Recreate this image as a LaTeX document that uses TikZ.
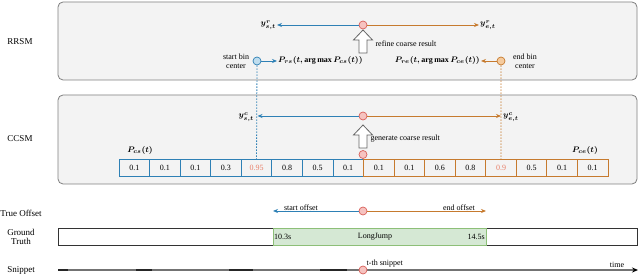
\documentclass[tikz,border=0pt]{standalone}
\usepackage{fontspec}
\setmainfont{Liberation Serif}
\usepackage{amsmath,bm}
\usetikzlibrary{arrows.meta,calc}
\definecolor{cblue}{HTML}{2E80B5}
\definecolor{corange}{HTML}{C67A2E}
\definecolor{cred}{HTML}{D9605A}
\definecolor{cpink}{HTML}{F6C3C0}
\definecolor{csalmon}{HTML}{E8806A}
\definecolor{cpanel}{HTML}{F3F3F3}
\definecolor{cpanelb}{HTML}{7F7F7F}
\definecolor{cgreen}{HTML}{D5E8D4}
\definecolor{cgreenb}{HTML}{8DBF78}
\definecolor{clblue}{HTML}{BFDDEE}
\definecolor{clorange}{HTML}{F5CB9E}
\tikzset{
  panel/.style={draw=cpanelb, fill=cpanel, rounded corners=5pt, line width=0.8pt, inner sep=0pt, outer sep=0pt},
  cell/.style={draw, line width=0.8pt, minimum width=30.5625pt, minimum height=17pt, inner sep=0pt, outer sep=0pt, font=\fontsize{8}{9}\selectfont},
  circ/.style={circle, draw=cred, fill=cpink, minimum size=8pt, inner sep=0pt, line width=0.7pt},
  bcirc/.style={circle, draw=cblue, fill=clblue, minimum size=8pt, inner sep=0pt, line width=0.7pt},
  ocirc/.style={circle, draw=corange, fill=clorange, minimum size=8pt, inner sep=0pt, line width=0.7pt},
  barrow/.style={draw=cblue, line width=0.8pt, -{Stealth[length=5pt,width=4pt]}},
  oarrow/.style={draw=corange, line width=0.8pt, -{Stealth[length=5pt,width=4pt]}},
  bdot/.style={draw=cblue, line width=0.8pt, dash pattern=on 1.5pt off 1.5pt},
  odot/.style={draw=corange, line width=0.8pt, dash pattern=on 1.5pt off 1.5pt},
  lbl/.style={inner sep=1pt, font=\fontsize{8}{9}\selectfont},
  small/.style={font=\fontsize{8}{9}\selectfont},
  gtbox/.style={draw=black!80, line width=0.9pt, minimum height=17pt, inner sep=0pt, outer sep=0pt, fill=white},
  hollowup/.pic={\draw[draw=black!60, fill=white, line width=0.8pt] (-4,0) -- (-4,-13) -- (-9.5,-13) -- (0,-23) -- (9.5,-13) -- (4,-13) -- (4,0) -- cycle;}
}
\begin{document}
\begin{tikzpicture}[x=1pt,y=-1pt,font=\fontsize{9}{10}\selectfont]
\useasboundingbox (0,0) rectangle (640,275);
% panels
\node[panel, minimum width=579pt, minimum height=78pt] (rrsmbox) at (347.5,41) {};
\node[panel, minimum width=579pt, minimum height=89pt] (ccsmbox) at (347.5,139.5) {};
% left labels
\node (lrrsm) at (20,42) {RRSM};
\node (lccsm) at (20,139) {CCSM};
\node (ltrue) at (21,213) {True Offset};
\node[align=center] (lgt) at (21,236.5) {Ground\\[-1pt]Truth};
\node (lsnip) at (21,270) {Snippet};
% cells
\foreach \v/\tc [count=\i] in {0.1/black,0.1/black,0.1/black,0.3/black,0.95/csalmon,0.8/black,0.5/black,0.1/black}{
  \node[cell, draw=cblue, text=\tc] (c\i) at ({119+(\i-0.5)*30.5625},167.5) {\v};
}
\foreach \v/\tc [count=\i from 9] in {0.1/black,0.1/black,0.6/black,0.8/black,0.9/csalmon,0.5/black,0.1/black,0.1/black}{
  \node[cell, draw=corange, text=\tc] (c\i) at ({119+(\i-0.5)*30.5625},167.5) {\v};
}
\node[lbl] (pcs) at (140,151) {$\bm{P_{cs}(t)}$};
\node[lbl] (pce) at (585,151) {$\bm{P_{ce}(t)}$};
% RRSM content
\node[bcirc] (sb) at (257,61) {};
\node[ocirc] (eb) at (501,61) {};
\node[align=center, small] (sbl) at (236,61) {start bin\\center};
\node[align=center, small] (ebl) at (525,61) {end bin\\center};
\node[lbl, anchor=west] (prs) at (277,61) {$\bm{P_{rs}(t,\arg\max P_{cs}(t))}$};
\node[lbl, anchor=east] (pre) at (481,61) {$\bm{P_{re}(t,\arg\max P_{ce}(t))}$};
\draw[bdot] (sb) -- (c5.north);
\draw[odot] (eb) -- (c13.north);
\draw[barrow] (sb) -- (prs.west);
\draw[oarrow] (eb) -- (pre.east);
\node[circ] (mr) at (363,25) {};
\node[lbl, anchor=east] (ysr) at (277,25) {$\bm{y^{r}_{s,t}}$};
\node[lbl, anchor=west] (yer) at (479,25) {$\bm{y^{r}_{e,t}}$};
\draw[barrow] (mr) -- (ysr.east);
\draw[oarrow] (mr) -- (yer.west);
\pic at (363,53) {hollowup};
\node[anchor=west, small] (refl) at (372,44) {refine coarse result};
% CCSM content
\node[circ] (mc) at (363,116) {};
\node[circ] (mb) at (363,154.5) {};
\node[lbl, anchor=east] (ysc) at (255,117) {$\bm{y^{c}_{s,t}}$};
\node[lbl, anchor=west] (yec) at (502,117) {$\bm{y^{c}_{e,t}}$};
\coordinate (ysct) at (257.5,116);
\coordinate (yect) at (501,116);
\draw[barrow] (mc) -- (ysct);
\draw[oarrow] (mc) -- (yect);
\pic at (363,148) {hollowup};
\node[anchor=west, small] (genl) at (367,139) {generate coarse result};
% True offset
\node[circ] (mt) at (363,211) {};
\coordinate (tos) at (273,211);
\coordinate (toe) at (486,211);
\draw[barrow] (mt) -- (tos);
\draw[oarrow] (mt) -- (toe);
\node[anchor=south, inner sep=0.5pt, small] (sol) at (301,211) {start offset};
\node[anchor=south, inner sep=0.5pt, small] (eol) at (459,211) {end offset};
% Ground truth
\node[gtbox, minimum width=215pt] (gtl) at (165.5,236.5) {};
\node[gtbox, minimum width=151pt] (gtr) at (561.5,236.5) {};
\node[gtbox, draw=cgreenb, fill=cgreen, minimum width=213pt] (gtm) at (379.5,236.5) {};
\node[anchor=west, inner sep=1pt, small] (t103) at (gtm.west) {10.3s};
\node[anchor=east, inner sep=1pt, small] (t145) at (gtm.east) {14.5s};
\node[small] (tlj) at (375,236.5) {LongJump};
% Snippet
\coordinate (s0) at (58,270);
\coordinate (s1) at (638,270);
\draw[draw=black!55, line width=1.2pt, arrows={-{Stealth[length=6pt,width=5pt,black]}}] (s0) -- (s1);
\foreach \a/\b in {58/68,136/152,229/253,320/347}{
  \draw[draw=black!85, line width=1.2pt] (\a,270) -- (\b,270);
}
\node[circ] (ms) at (363,270) {};
\node[anchor=south west, inner sep=0.5pt, small] (tsn) at (366,268) {t-th snippet};
\node[anchor=south, inner sep=0.5pt, small] (ttime) at (617,268) {time};
\end{tikzpicture}
\end{document}
